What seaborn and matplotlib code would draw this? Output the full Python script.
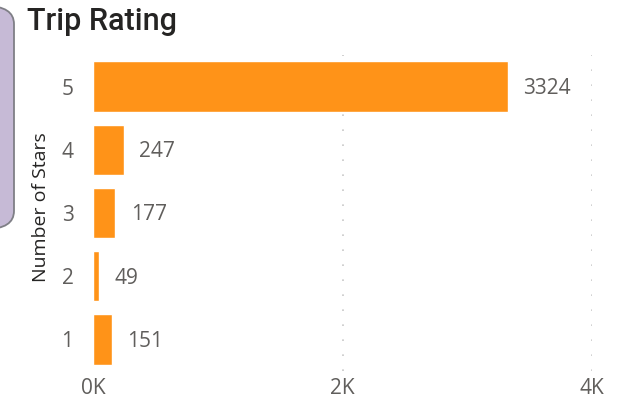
import matplotlib
matplotlib.use("Agg")
import matplotlib.pyplot as plt
import seaborn as sns
import pandas as pd
from matplotlib.patches import FancyBboxPatch
from matplotlib.ticker import FixedLocator

stars = ["5", "4", "3", "2", "1"]
counts = [3324, 247, 177, 49, 151]
x_ticks = [0, 2000, 4000]
x_tick_labels = ["0K", "2K", "4K"]

df = pd.DataFrame({"stars": stars, "count": counts})

sns.set_style("white")
plt.rcParams["font.family"] = ["Open Sans", "DejaVu Sans"]

fig = plt.figure(figsize=(6.24, 4.01), dpi=100)

# decorative purple rounded panel at left
panel = FancyBboxPatch((-40 / 624, (401 - 229) / 401), 54 / 624, 223 / 401,
                       boxstyle="round,pad=0,rounding_size=0.045",
                       transform=fig.transFigure, facecolor="#C6BAD6",
                       edgecolor="#7F7F86", linewidth=1.3, zorder=0)
fig.patches.append(panel)

ax = fig.add_axes([93 / 624, (401 - 371) / 401, (592 - 93) / 624, (371 - 55) / 401])
ax.patch.set_alpha(0)

sns.barplot(data=df, y="stars", x="count", order=stars, color="#FF9318",
            width=0.8, saturation=1, ax=ax, zorder=3)

ax.set_xlim(0, 4000)
ax.set_ylim(4.5, -0.5)
ax.xaxis.set_major_locator(FixedLocator(x_ticks))
ax.set_xticklabels(x_tick_labels)
for xv in x_ticks[1:]:
    ax.axvline(xv, color="#C8C8C8", linestyle=(0, (1, 8)), linewidth=1.2, zorder=1)

for i, v in enumerate(counts):
    ax.text(v + 125, i + 0.03, f"{v}", va="center", ha="left", fontsize=15,
            color="#605E5C")

for s in ax.spines.values():
    s.set_visible(False)
ax.tick_params(axis="both", length=0, labelsize=15, colors="#605E5C")
ax.tick_params(axis="y", pad=14)
ax.tick_params(axis="x", pad=5)
ax.set_xlabel("")
ax.set_ylabel("Number of Stars", fontsize=14, color="#252423", labelpad=8)
ax.yaxis.label.set_y(0.52)

fig.text(27 / 624, 1 - 21 / 401, "Trip Rating", fontsize=22, color="#252423",
         va="center", ha="left", fontweight="medium",
         family=["Roboto", "DejaVu Sans"])

fig.savefig("out.png", dpi=100)
